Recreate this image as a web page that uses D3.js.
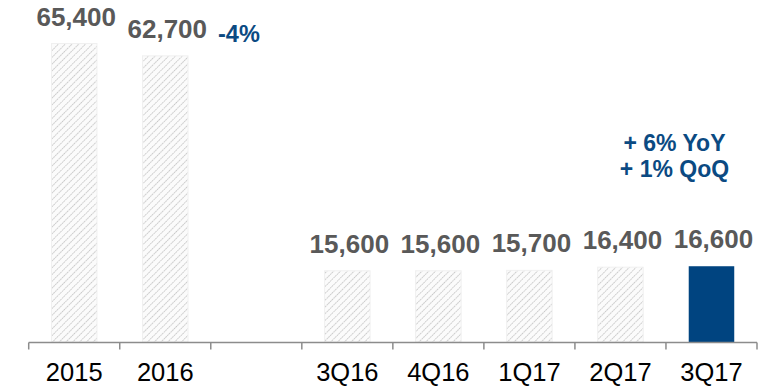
<!DOCTYPE html>
<html>
<head>
<meta charset="utf-8">
<script src="https://cdn.jsdelivr.net/npm/d3@7"></script>
<style>
  body { margin: 0; background: #fff; }
  text { font-family: "Liberation Sans", Arial, sans-serif; }
</style>
</head>
<body>
<script>
const categories = ["2015", "2016", "", "3Q16", "4Q16", "1Q17", "2Q17", "3Q17"];
const values = [65400, 62700, null, 15600, 15600, 15700, 16400, 16600];
const highlight = ["3Q17"];
const growthNotes = ["+ 6% YoY", "+ 1% QoQ"];
const annualChange = "-4%";

const width = 781;
const height = 392;
const grey = "#595959";
const blue = "#0b4a82";

const svg = d3.select("body").append("svg")
    .attr("width", width)
    .attr("height", height);

// hatch for the historic bars
const defs = svg.append("defs");
const pat = defs.append("pattern")
    .attr("id", "hatch")
    .attr("patternUnits", "userSpaceOnUse")
    .attr("width", 4.8)
    .attr("height", 4.8)
    .attr("patternTransform", "rotate(45)");
pat.append("rect").attr("width", 4.8).attr("height", 4.8).attr("fill", "#fbfbfb");
pat.append("line")
    .attr("x1", 0).attr("y1", 0).attr("x2", 0).attr("y2", 4.8)
    .attr("stroke", "#b0b0b0")
    .attr("stroke-width", 1.3)
    .attr("stroke-dasharray", "1.6,0.8");

// blank slot gets its own key so band positions stay unique
const keys = categories.map((c, i) => c === "" ? "gap" + i : c);
const data = keys.map((k, i) => ({key: k, label: categories[i], value: values[i]}));

const x = d3.scaleBand()
    .domain(keys)
    .range([28.7, 757])
    .paddingInner(0.5)
    .paddingOuter(0.25);

const y = d3.scaleLinear()
    .domain([0, 65400])
    .range([342, 43.5]);

const bars = data.filter(d => d.value != null);

svg.selectAll("rect.bar")
  .data(bars)
  .enter().append("rect")
  .attr("class", "bar")
  .attr("x", d => x(d.key))
  .attr("y", d => y(d.value))
  .attr("width", x.bandwidth())
  .attr("height", d => y(0) - y(d.value))
  .attr("fill", d => highlight.includes(d.label) ? "#004480" : "url(#hatch)")
  .attr("stroke", d => highlight.includes(d.label) ? "none" : "#f0f0f0")
  .attr("stroke-width", 1);

svg.selectAll("text.val")
  .data(bars)
  .enter().append("text")
  .attr("class", "val")
  .attr("x", d => x(d.key) + x.bandwidth() / 2 + 2)
  .attr("y", d => y(d.value) - 18)
  .attr("text-anchor", "middle")
  .attr("fill", grey)
  .style("font-size", "26px")
  .style("font-weight", "bold")
  .text(d => d3.format(",")(d.value));

// axis: line plus ticks at every slot boundary
const axis = svg.append("g");
axis.append("line")
    .attr("x1", x.range()[0]).attr("x2", x.range()[1])
    .attr("y1", 342.5).attr("y2", 342.5)
    .attr("stroke", "#8c8c8c")
    .attr("stroke-width", 1.5);
const bounds = d3.range(keys.length + 1).map(i => x.range()[0] + i * x.step());
axis.selectAll("line.tick")
  .data(bounds)
  .enter().append("line")
  .attr("class", "tick")
  .attr("x1", d => d).attr("x2", d => d)
  .attr("y1", 342.5).attr("y2", 349.5)
  .attr("stroke", "#8c8c8c")
  .attr("stroke-width", 1.5);

axis.selectAll("text")
  .data(data.filter(d => d.label !== ""))
  .enter().append("text")
  .attr("x", d => x(d.key) + x.bandwidth() / 2)
  .attr("y", 380.5)
  .attr("text-anchor", "middle")
  .attr("fill", "#000")
  .style("font-size", "25.5px")
  .text(d => d.label);

// annotations
svg.append("text")
    .attr("x", 218)
    .attr("y", 41.5)
    .attr("fill", blue)
    .style("font-size", "23.5px")
    .style("font-weight", "bold")
    .text(annualChange);

const last = data[data.length - 1];
svg.selectAll("text.note")
  .data(growthNotes)
  .enter().append("text")
  .attr("class", "note")
  .attr("x", x(last.key) + x.bandwidth() / 2 - 37)
  .attr("y", (d, i) => 151 + i * 26)
  .attr("text-anchor", "middle")
  .attr("fill", blue)
  .style("font-size", "23px")
  .style("font-weight", "bold")
  .text(d => d);
</script>
</body>
</html>
